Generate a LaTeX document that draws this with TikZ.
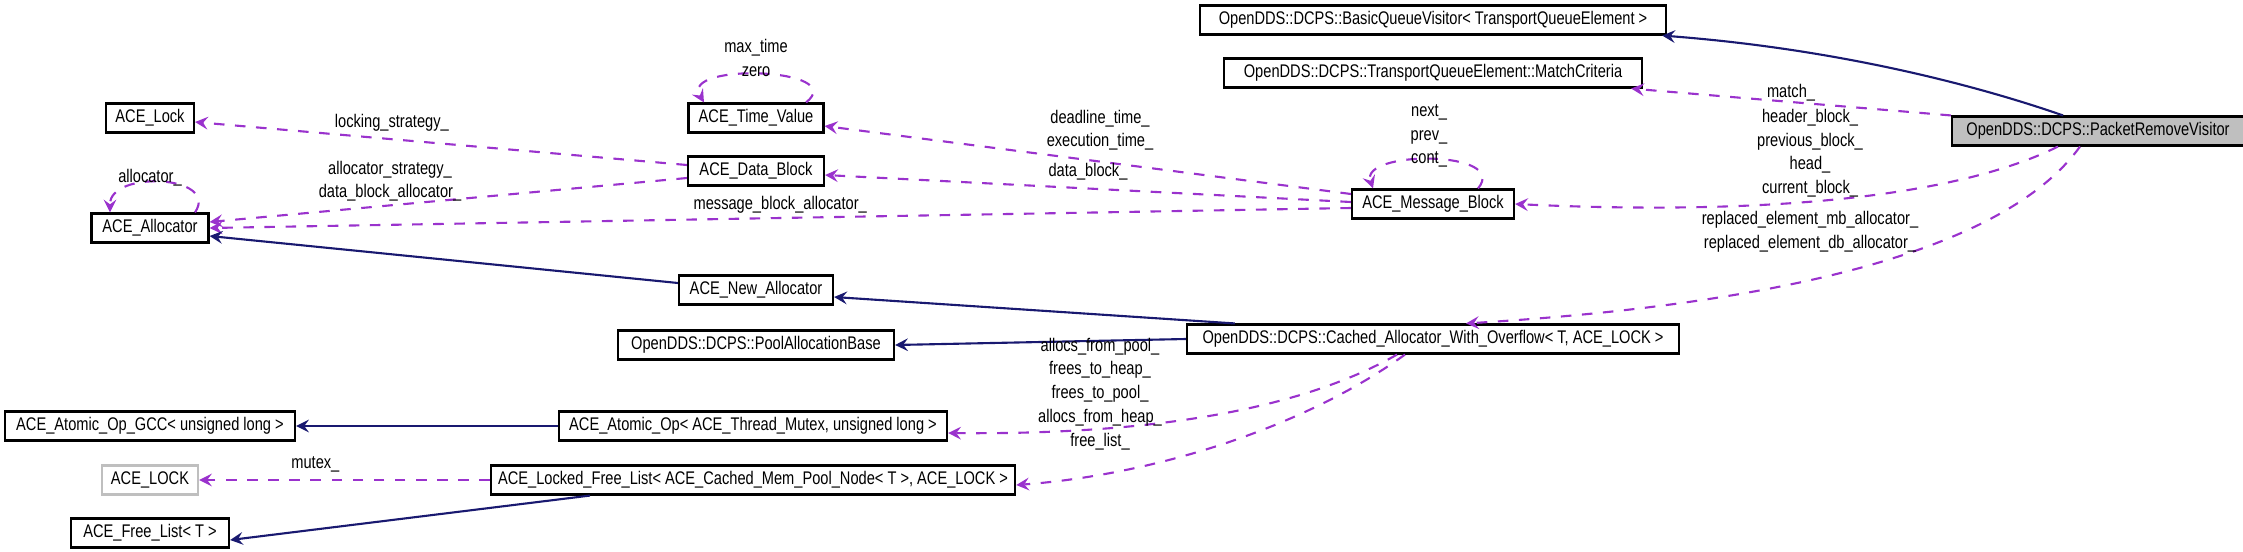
\documentclass[tikz,border=0pt]{standalone}
\usepackage{fontspec}
\setmainfont{Liberation Sans}[FakeStretch=0.8]
\usepackage{tikz}
\usetikzlibrary{positioning}
\definecolor{edgeblue}{HTML}{191970}
\definecolor{edgepurple}{HTML}{9A32CD}
\tikzset{
    cls/.style={draw, semithick, font=\fontsize{5.2}{6}\selectfont, inner sep=0pt, minimum height=0.29cm, anchor=center},
    gen/.style={edgeblue, semithick, -stealth},
    use/.style={edgepurple, semithick, dashed, -stealth},
    lbl/.style={text=black, font=\fontsize{5.2}{6}\selectfont, align=center, inner sep=0pt},
}
\begin{document}
\begin{tikzpicture}[x=0.01cm, y=-0.01cm]
    \useasboundingbox (0,0) rectangle (2243,551);
    % classes
    \node[cls, minimum width=4.66cm] (bqv) at (1433,20) {OpenDDS::DCPS::BasicQueueVisitor< TransportQueueElement >};
    \node[cls, minimum width=4.18cm] (crit) at (1433,73) {OpenDDS::DCPS::TransportQueueElement::MatchCriteria};
    \node[cls, minimum width=2.92cm, fill=black!25] (prv) at (2098,131) {OpenDDS::DCPS::PacketRemoveVisitor};
    \node[cls, minimum width=0.88cm] (lock) at (150,118) {ACE\_Lock};
    \node[cls, minimum width=1.35cm] (time) at (756,118) {ACE\_Time\_Value};
    \node[cls, minimum width=1.36cm] (dblk) at (756,171) {ACE\_Data\_Block};
    \node[cls, minimum width=1.17cm] (alloc) at (150,228) {ACE\_Allocator};
    \node[cls, minimum width=1.62cm] (mblk) at (1433,204) {ACE\_Message\_Block};
    \node[cls, minimum width=1.54cm] (newalloc) at (756,290) {ACE\_New\_Allocator};
    \node[cls, minimum width=2.76cm] (pool) at (756,345) {OpenDDS::DCPS::PoolAllocationBase};
    \node[cls, minimum width=4.92cm] (cached) at (1433,339) {OpenDDS::DCPS::Cached\_Allocator\_With\_Overflow< T, ACE\_LOCK >};
    \node[cls, minimum width=2.90cm] (gcc) at (150,426) {ACE\_Atomic\_Op\_GCC< unsigned long >};
    \node[cls, minimum width=3.88cm] (atomic) at (753,426) {ACE\_Atomic\_Op< ACE\_Thread\_Mutex, unsigned long >};
    \node[cls, minimum width=0.96cm, draw=black!25] (biglock) at (150,480) {ACE\_LOCK};
    \node[cls, minimum width=5.24cm] (lfl) at (753,480) {ACE\_Locked\_Free\_List< ACE\_Cached\_Mem\_Pool\_Node< T >, ACE\_LOCK >};
    \node[cls, minimum width=1.58cm] (flist) at (150,533) {ACE\_Free\_List< T >};
    % PacketRemoveVisitor
    \draw[gen] ([xshift=-0.35cm]prv.north) .. controls (1990,90) and (1850,50) .. ([xshift=-0.05cm]bqv.south east);
    \draw[use] (prv.north west) -- ([xshift=-0.12cm]crit.south east) node[lbl, pos=0.5, above] {match\_};
    \draw[use] ([xshift=-0.4cm]prv.south) .. controls (1950,200) and (1750,215) .. (mblk.east);
    \node[lbl] at (1810,153) {header\_block\_\\[0.7pt]previous\_block\_\\[0.7pt]head\_\\[0.7pt]current\_block\_};
    \draw[use] ([xshift=-0.18cm]prv.south) .. controls (2020,230) and (1850,300) .. ([xshift=0.33cm]cached.north);
    \node[lbl] at (1810,232) {replaced\_element\_mb\_allocator\_\\[0.7pt]replaced\_element\_db\_allocator\_};
    % ACE_Message_Block
    \draw[use] ([xshift=0.45cm]mblk.north) .. controls (1510,150) and (1360,150) .. ([xshift=-0.6cm]mblk.north);
    \node[lbl] at (1429,136) {next\_\\[0.7pt]prev\_\\[0.7pt]cont\_};
    \draw[use] ([yshift=0.1cm]mblk.west) -- ([yshift=-0.08cm]time.east);
    \node[lbl] at (1100,130) {deadline\_time\_\\[0.7pt]execution\_time\_};
    \draw[use] ([yshift=0.02cm]mblk.west) -- ([yshift=-0.04cm]dblk.east) node[lbl, pos=0.5, above=2pt] {data\_block\_};
    \draw[use] ([yshift=-0.04cm]mblk.west) -- (alloc.east) node[lbl, pos=0.5, above=1pt] {message\_block\_allocator\_};
    % ACE_Time_Value
    \draw[use] ([xshift=0.5cm]time.north) .. controls (850,68) and (680,62) .. ([xshift=-0.52cm]time.north);
    \node[lbl] at (756,58) {max\_time\\[0.7pt]zero};
    % ACE_Data_Block
    \draw[use] ([yshift=0.06cm]dblk.west) -- ([yshift=-0.04cm]lock.east) node[lbl, pos=0.6, above=2pt] {locking\_strategy\_};
    \draw[use] ([yshift=-0.07cm]dblk.west) -- ([yshift=0.06cm]alloc.east);
    \node[lbl] at (390,181) {allocator\_strategy\_\\[0.7pt]data\_block\_allocator\_};
    % ACE_Allocator
    \draw[use] ([xshift=0.45cm]alloc.north) .. controls (220,175) and (110,170) .. ([xshift=-0.4cm]alloc.north);
    \node[lbl] at (150,178) {allocator\_};
    % inheritance
    \draw[gen] ([yshift=0.07cm]newalloc.west) -- ([yshift=-0.08cm]alloc.east);
    \draw[gen] ([xshift=-1.98cm]cached.north) -- ([yshift=-0.07cm]newalloc.east);
    \draw[gen] (cached.west) -- (pool.east);
    \draw[gen] (atomic.west) -- (gcc.east);
    \draw[gen] ([xshift=-1.63cm]lfl.south) -- ([yshift=-0.07cm]flist.east);
    % Cached_Allocator_With_Overflow
    \draw[use] ([xshift=-0.36cm]cached.south) .. controls (1300,410) and (1150,435) .. ([yshift=-0.07cm]atomic.east);
    \node[lbl] at (1100,382) {allocs\_from\_pool\_\\[0.7pt]frees\_to\_heap\_\\[0.7pt]frees\_to\_pool\_\\[0.7pt]allocs\_from\_heap\_};
    \draw[use] ([xshift=-0.28cm]cached.south) .. controls (1300,430) and (1150,475) .. ([yshift=-0.05cm]lfl.east);
    \node[lbl] at (1100,442) {free\_list\_};
    % ACE_Locked_Free_List
    \draw[use] (lfl.west) -- (biglock.east) node[lbl, pos=0.6, above=2pt] {mutex\_};
\end{tikzpicture}
\end{document}
